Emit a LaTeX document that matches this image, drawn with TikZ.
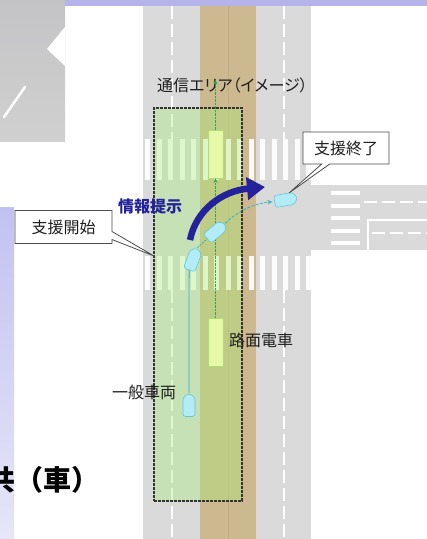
\documentclass[tikz,border=0pt]{standalone}
\usepackage{fontspec}
\setmainfont{Noto Sans CJK JP}
\newfontfamily\jpfont{Noto Sans CJK JP}[RawFeature=+palt]
\usetikzlibrary{arrows.meta,shapes.callouts,shapes.symbols}

\definecolor{roadgray}{HTML}{DADADA}
\definecolor{tramtan}{HTML}{CDB98F}
\definecolor{areagreen}{HTML}{A8EE78}
\definecolor{framedark}{HTML}{333333}
\definecolor{slidelav}{HTML}{B4B4EA}
\definecolor{lavtop}{HTML}{C2C2F0}
\definecolor{lavbottom}{HTML}{E6E6F8}
\definecolor{photogray}{HTML}{C4C4C6}
\definecolor{photogray2}{HTML}{D0D0D0}
\definecolor{infoblue}{HTML}{24229A}
\definecolor{carfill}{HTML}{B2ECF6}
\definecolor{carline}{HTML}{68C6D6}
\definecolor{trajteal}{HTML}{35AFC2}
\definecolor{tramfill}{HTML}{E6F9A8}
\definecolor{tramline}{HTML}{B2DA76}
\definecolor{tramgreen}{HTML}{2FA650}
\definecolor{labelink}{HTML}{1E1E1E}

\begin{document}
\begin{tikzpicture}[x=1pt,y=-1pt,
  lbl/.style={font=\jpfont\fontsize{16}{16}\selectfont, text=labelink, inner sep=0pt, anchor=west},
  calloutbox/.style={rectangle callout, draw=black!70, line width=0.8pt, fill=white,
    inner sep=0pt, callout pointer width=8pt, text=labelink,
    font=\jpfont\fontsize{16}{16}\selectfont},
  carshape/.style={signal, signal to=north, signal pointer angle=110, draw=carline,
    fill=carfill, line width=0.6pt, minimum width=12pt, minimum height=19pt,
    inner sep=0pt, rounded corners=2.5pt},
  tramcar/.style={rectangle, draw=tramline, fill=tramfill, line width=0.8pt,
    minimum width=15pt, minimum height=48pt, inner sep=0pt},
  traj/.style={trajteal, line width=0.8pt},
  tramlink/.style={tramgreen, line width=0.8pt, dash pattern=on 2.5pt off 1pt,
    -{Stealth[length=4.5pt,width=4pt]}},
  lanedash/.style={white, line width=1.3pt, dash pattern=on 13pt off 5pt},
  commarea/.style={rectangle, draw=framedark, line width=1.3pt,
    dash pattern=on 2.6pt off 1.4pt, fill=areagreen, fill opacity=0.36,
    draw opacity=1, inner sep=0pt},
]
\useasboundingbox (0,0) rectangle (427,539);
\fill[white] (0,0) rectangle (427,539);

% neighbouring slide material
\shade[top color=photogray, bottom color=photogray2] (0,0) rectangle (65,141);
\fill[white] (47,49) -- (65,27) -- (65,66) -- cycle;
\draw[white, line width=2.5pt, line cap=round] (4,117) -- (25,87);
\fill[slidelav] (65,0) rectangle (427,6);
\shade[top color=lavtop, bottom color=lavbottom] (0,207) rectangle (14,539);

% roads and tram track
\fill[roadgray] (143,6) rectangle (311,539);
\fill[roadgray] (311,185) rectangle (427,250);
\fill[tramtan] (200,6) rectangle (256,539);
\draw[tramtan!85!black, line width=0.5pt, opacity=0.4] (228,6) -- (228,539);

% pedestrian crossings
\foreach \i in {0,...,14} {
  \fill[white, opacity=0.92] ({145+11.5*\i},139) rectangle ++(5,41);
  \fill[white, opacity=0.92] ({145+11.5*\i},256) rectangle ++(5,34);
}
\foreach \yy in {191,203.5,216,228.5,241}
  \fill[white] (331,\yy) rectangle ++(29,4);

% lane markings
\draw[lanedash] (364,202) -- (427,202);
\draw[white, line width=1.3pt] (368,250) -- (368,220) -- (427,220);
\draw[lanedash] (372,233) -- (427,233);
\draw[lanedash] (172,6) -- (172,139);
\draw[lanedash] (172,290) -- (172,539);
\draw[lanedash] (284,6) -- (284,139);
\draw[lanedash] (284,290) -- (284,539);

% communication area
\node[commarea, minimum width=88pt, minimum height=393pt] (area) at (198,304.5) {};

% labels
\node[lbl] (areaLbl) at (157,85) {通信エリア（イメージ）};
\node[lbl] (tramLbl) at (229,340) {路面電車};
\node[lbl] (carLbl) at (112,392) {一般車両};
\node[lbl, font=\jpfont\bfseries\fontsize{16}{16}\selectfont, text=infoblue] (infoLbl) at (118,206) {情報提示};
\node[font=\bfseries\fontsize{28}{28}\selectfont, text=black, inner sep=0pt, anchor=west] (slideTitle) at (-13,480) {共（車）};

% trams
\node[tramcar] (tramA) at (215.5,154) {};
\node[tramcar] (tramB) at (215.5,342.5) {};
\coordinate (areaTop) at (215.5,80);
\draw[tramlink] (tramB.north) -- (tramA.south);
\draw[tramlink] (tramA.north) -- (areaTop);

% cars
\node[carshape] (car1) at (189,407) {};
\node[carshape, rotate=-20] (car2) at (192.5,261) {};
\node[carshape, rotate=-50] (car3) at (214.5,232.5) {};
\node[carshape, rotate=-80] (car4) at (284,200) {};
\draw[traj] (car1.north) .. controls (189,320) and (189,290) .. (car2.south);
\draw[traj, dash pattern=on 2pt off 1.2pt] (car2.north) -- (car3.south);
\draw[traj, dash pattern=on 3pt off 1.5pt, shorten >=2pt, -{Stealth[length=5pt,width=4.5pt]}]
  (car3.north) .. controls (236,212) and (255,203) .. (car4.south);

% information arrow
\coordinate (infoFrom) at (190,240);
\coordinate (infoTo) at (265,187);
\draw[infoblue, line width=6.5pt, -{Triangle[width=22pt,length=18pt]}]
  (infoFrom) .. controls (196,210) and (222,191) .. (infoTo);

% callouts
\coordinate (startPt) at (154,256);
\coordinate (endPt) at (289,193);
\node[calloutbox, minimum width=97pt, minimum height=33pt, callout absolute pointer={(startPt)}] (startBox) at (63.5,227) {支援開始};
\node[calloutbox, minimum width=86pt, minimum height=32pt, callout absolute pointer={(endPt)}] (endBox) at (346,148) {支援終了};
\end{tikzpicture}
\end{document}
